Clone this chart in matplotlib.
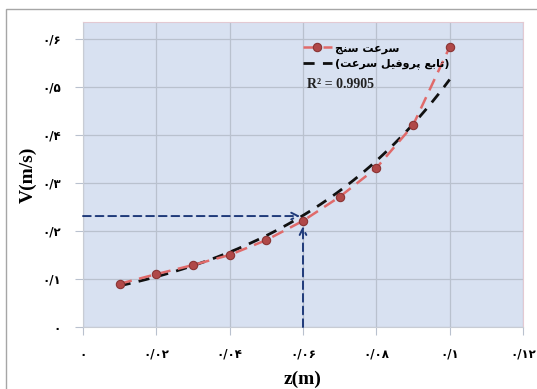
import numpy as np
import matplotlib
matplotlib.use("Agg")
import matplotlib.pyplot as plt
from matplotlib.patches import Rectangle

# data
z = [0.01, 0.02, 0.03, 0.04, 0.05, 0.06, 0.07, 0.08, 0.09, 0.10]
v = [0.090, 0.110, 0.129, 0.150, 0.181, 0.221, 0.271, 0.331, 0.420, 0.583]
x_ticks = [0, 0.02, 0.04, 0.06, 0.08, 0.10, 0.12]
x_tick_labels = ["۰", "۰/۰۲", "۰/۰۴", "۰/۰۶", "۰/۰۸", "۰/۱", "۰/۱۲"]
y_ticks = [0, 0.1, 0.2, 0.3, 0.4, 0.5, 0.6]
y_tick_labels = ["۰", "۰/۱", "۰/۲", "۰/۳", "۰/۴", "۰/۵", "۰/۶"]
guide_z = 0.06
guide_v = 0.231
r2_text = "R² = 0.9905"
# Persian labels in visual (shaped, reversed) order
label_meter = "ﺞﻨﺳ ﺖﻋﺮﺳ"                      # سرعت سنج
label_fit = "(ﺖﻋﺮﺳ ﻞﯿﻓﻭﺮﭘ ﻊﺑﺎﺗ)"              # (تابع پروفیل سرعت)

zarr = np.array(z)
varr = np.array(v)
b, lna = np.polyfit(zarr, np.log(varr), 1)
zf = np.linspace(zarr.min(), zarr.max(), 200)
vf = np.exp(lna) * np.exp(b * zf)

fig = plt.figure(figsize=(5.37, 3.89), dpi=100)
fig.patch.set_facecolor("white")
# outer frame
fig.add_artist(Rectangle((6/537, -0.1), 1.2, 1 - 9/389 + 0.1, transform=fig.transFigure,
                         fill=False, edgecolor="#a6a6a6", lw=1.0))

ax = fig.add_axes([83/537, 1 - 327/389, (523 - 83)/537, (327 - 22)/389])
ax.set_facecolor("#d8e1f1")
ax.set_xlim(0, 0.12)
ax.set_ylim(0, 0.635)
ax.grid(True, color="#b9c1ce", lw=0.9)
ax.set_axisbelow(True)
for s in ["top", "right"]:
    ax.spines[s].set_color("#e3c9d2")
    ax.spines[s].set_linewidth(0.8)
for s in ["left", "bottom"]:
    ax.spines[s].set_color("#c8ccd4")
    ax.spines[s].set_linewidth(0.8)

ax.set_xticks(x_ticks)
ax.set_xticklabels(x_tick_labels, family=["DejaVu Sans"], fontsize=8.5, fontweight="bold")
ax.set_yticks(y_ticks)
ax.set_yticklabels(y_tick_labels, family=["DejaVu Sans"], fontsize=8.5, fontweight="bold")
ax.tick_params(axis="both", length=6, color="#b9c1ce")
ax.tick_params(axis="x", pad=9)
ax.tick_params(axis="y", pad=10)

ax.set_xlabel("z(m)", family=["Liberation Serif"], fontsize=14, fontweight="bold", labelpad=7)
ax.set_ylabel("V(m/s)", family=["Liberation Serif"], fontsize=14, fontweight="bold", labelpad=4)

# guide arrows
ax.annotate("", xy=(guide_z - 0.0008, guide_v), xytext=(0, guide_v),
            arrowprops=dict(arrowstyle="->", color="#1f3a7a", lw=1.4, linestyle=(0, (4, 2.5)),
                            shrinkA=0, shrinkB=0, mutation_scale=12))
ax.annotate("", xy=(guide_z, 0.21), xytext=(guide_z, 0),
            arrowprops=dict(arrowstyle="->", color="#1f3a7a", lw=1.4, linestyle=(0, (4, 2.5)),
                            shrinkA=0, shrinkB=0, mutation_scale=12))

# fit curve
l2, = ax.plot(zf, vf, color="#111111", lw=2.0, dashes=(4, 3), label=label_fit, zorder=3)
# measured
l1, = ax.plot(z, v, color="#e06a6a", lw=1.8, dashes=(5, 3), marker="o", markersize=6,
              markerfacecolor="#b04848", markeredgecolor="#8a3434", markeredgewidth=0.8,
              label=label_meter, zorder=4)

leg = ax.legend(handles=[l1, l2], loc="upper left", bbox_to_anchor=(0.49, 0.945), frameon=False,
                prop=dict(family=["DejaVu Sans"], weight="bold", size=8),
                handlelength=2.6, handletextpad=0.3, labelspacing=0.45, borderaxespad=0)
ax.text(0.508, 0.795, r2_text, transform=ax.transAxes, family=["Liberation Serif"],
        fontsize=10, fontweight="bold", color="#222222", va="center", ha="left")

fig.savefig("out.png", dpi=100)
